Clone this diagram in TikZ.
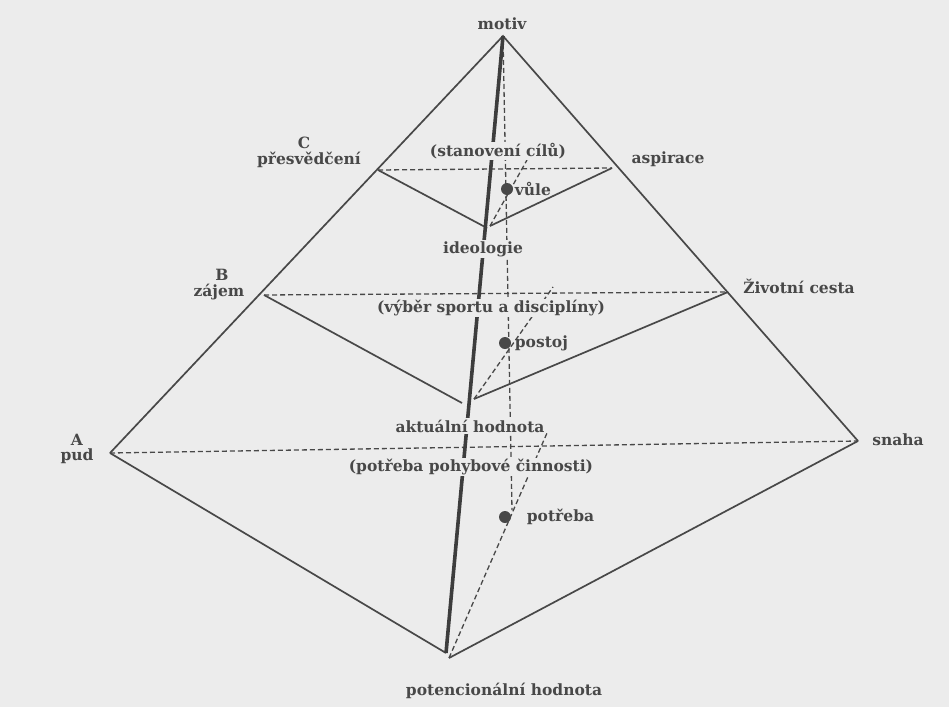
\documentclass[tikz,border=0pt]{standalone}
\usepackage{fontspec}
\setmainfont{DejaVu Serif}
\usetikzlibrary{positioning}
\definecolor{paper}{RGB}{236,236,236}
\definecolor{ink}{RGB}{72,72,72}

\begin{document}
\begin{tikzpicture}[x=1pt, y=-1pt,
  edge/.style={draw=ink, line width=1.7pt},
  hidden/.style={draw=ink, line width=1.3pt, dash pattern=on 5pt off 3pt},
  axis/.style={draw=ink!85!black, line width=3.6pt},
  lbl/.style={text=ink, font=\bfseries\fontsize{15.5}{18}\selectfont, inner sep=1.5pt},
  tag/.style={lbl, fill=paper},
  dot/.style={circle, fill=ink, inner sep=0pt, minimum size=12pt}]
\fill[paper] (0,0) rectangle (949,707);
\useasboundingbox (0,0) rectangle (949,707);
% corners of the pyramid
\coordinate (top) at (503,36);
\coordinate (pud) at (110,453);
\coordinate (snaha) at (858,441);
\coordinate (baseL) at (446,653);
\coordinate (baseR) at (449,658);
\coordinate (zajem) at (264,295);
\coordinate (cesta) at (728,292);
\coordinate (midL) at (462,403);
\coordinate (midR) at (474,399);
\coordinate (presv) at (378,170);
\coordinate (aspir) at (612,168);
\coordinate (upL) at (487,228);
\coordinate (upR) at (490,226);
% ends of the dashed lines
\coordinate (plumb) at (512,510);
\coordinate (slantA) at (547,433);
\coordinate (slantB) at (553,287);
\coordinate (slantC) at (527,160);
% outline and levels
\draw[edge] (pud) -- (top) -- (snaha);
\draw[edge] (pud) -- (baseL);
\draw[edge] (baseR) -- (snaha);
\draw[edge] (zajem) -- (midL);
\draw[edge] (midR) -- (cesta);
\draw[edge] (presv) -- (upL);
\draw[edge] (upR) -- (aspir);
\draw[hidden] (pud) -- (snaha);
\draw[hidden] (zajem) -- (cesta);
\draw[hidden] (presv) -- (aspir);
\draw[hidden] (top) -- (plumb);
\draw[hidden] (baseR) -- (slantA);
\draw[hidden] (midR) -- (slantB);
\draw[hidden] (upR) -- (slantC);
\draw[axis] (top) -- (baseL);
% points on the axis
\node[dot] (vule) at (507,189) {};
\node[dot] (postoj) at (505,343) {};
\node[dot] (potreba) at (505,517) {};
\node[lbl, right=0pt of vule] {vůle};
\node[lbl, right=2pt of postoj] {postoj};
\node[lbl, right=14pt of potreba] {potřeba};
% labels
\node[lbl] (motiv) at (502,24) {motiv};
\node[lbl] (presvL) at (309,160) {přesvědčení};
\node[lbl, above=0pt of presvL, xshift=-5pt] {C};
\node[lbl] (aspirL) at (668,159) {aspirace};
\node[lbl] (zajemL) at (219,292) {zájem};
\node[lbl, above=0pt of zajemL, xshift=3pt] {B};
\node[lbl] (cestaL) at (799,286) {Životní cesta};
\node[lbl] (pudL) at (77,456) {pud};
\node[lbl, above=0pt of pudL] {A};
\node[lbl] (snahaL) at (898,440) {snaha};
\node[lbl] (potenc) at (504,691) {potencionální hodnota};
\node[tag] (cile) at (498,151) {(stanovení cílů)};
\node[tag] (ideol) at (483,249) {ideologie};
\node[tag] (vyber) at (491,308) {(výběr sportu a disciplíny)};
\node[tag] (aktual) at (470,426) {aktuální hodnota};
\node[tag] (pohyb) at (471,467) {(potřeba pohybové činnosti)};
\end{tikzpicture}
\end{document}
